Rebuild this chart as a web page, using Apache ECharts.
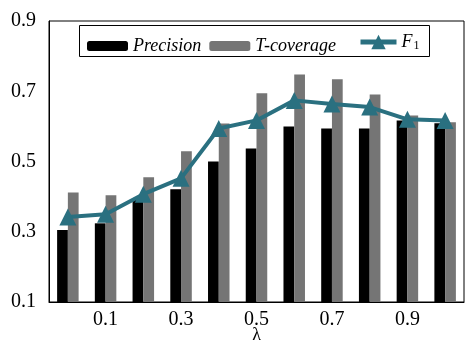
<!DOCTYPE html>
<html><head><meta charset="utf-8">
<script src="https://cdn.jsdelivr.net/npm/echarts@6/dist/echarts.min.js"></script>
<style>html,body{margin:0;padding:0;background:#fff}#c{width:465px;height:346px}</style>
</head><body><div id="c"></div>
<script>
const categories = ['0','0.1','0.2','0.3','0.4','0.5','0.6','0.7','0.8','0.9','1.0'];
const precision = [0.305, 0.324, 0.392, 0.421, 0.500, 0.537, 0.600, 0.594, 0.594, 0.617, 0.609];
const tcoverage = [0.412, 0.404, 0.455, 0.529, 0.608, 0.694, 0.748, 0.734, 0.691, 0.631, 0.612];
const f1 = [0.342, 0.350, 0.407, 0.452, 0.594, 0.617, 0.674, 0.664, 0.655, 0.620, 0.617];
const yTicks = [0.1, 0.3, 0.5, 0.7, 0.9];
const font = "'Liberation Serif', 'Times New Roman', serif";
const legendText = {
  fontFamily: font, fontSize: 18, color: '#000',
  rich: {
    i: {fontFamily: font, fontStyle: 'italic', fontSize: 18, color: '#000'},
    s: {fontFamily: font, fontSize: 12, color: '#000', padding: [7, 0, 0, 1]}
  }
};
const chart = echarts.init(document.getElementById('c'));
chart.setOption({
  animation: false,
  grid: {left: 49, right: 1, top: 21, bottom: 44, show: true, borderColor: '#000', borderWidth: 1, outerBoundsMode: 'none', containLabel: false},
  graphic: [{type: 'rect', left: 79, top: 25, shape: {width: 350, height: 31}, style: {fill: '#fff', stroke: '#000', lineWidth: 1}, z: 50}],
  legend: [
    {
      top: 32, left: 82, padding: 5, itemGap: 8,
      itemWidth: 41, itemHeight: 10, z: 60,
      data: ['Precision', 'T-coverage'],
      formatter: function (n) { return '{i|' + n + '}'; },
      textStyle: legendText
    },
    {
      top: 28, left: 353, padding: 5, itemGap: 8,
      itemWidth: 36, itemHeight: 18, z: 60,
      data: [{name: 'F1', lineStyle: {width: 5}}],
      formatter: function () { return '{i|F}{s|1}'; },
      textStyle: legendText
    }
  ],
  xAxis: {
    type: 'category', data: categories,
    name: 'λ', nameLocation: 'middle', nameGap: 24, nameMoveOverlap: false,
    nameTextStyle: {fontFamily: font, fontSize: 18, color: '#000'},
    axisLine: {lineStyle: {color: '#000'}}, axisTick: {show: false},
    axisLabel: {interval: function (i) { return i % 2 === 1; }, fontFamily: font, fontSize: 20, color: '#000', margin: 8}
  },
  yAxis: {
    type: 'value', min: yTicks[0], max: yTicks[yTicks.length - 1], interval: 0.2,
    splitLine: {show: false}, axisTick: {show: false},
    axisLine: {show: true, lineStyle: {color: '#000'}},
    axisLabel: {fontFamily: font, fontSize: 20, color: '#000', margin: 13, formatter: function (v) { return v.toFixed(1); }}
  },
  series: [
    {name: 'Precision', type: 'bar', data: precision, itemStyle: {color: '#000'}, barGap: '0%', barCategoryGap: '43%'},
    {name: 'T-coverage', type: 'bar', data: tcoverage, itemStyle: {color: '#757575'}},
    {name: 'F1', type: 'line', data: f1, z: 5, symbol: 'triangle', symbolSize: 17,
     lineStyle: {color: '#2a7080', width: 4}, itemStyle: {color: '#2a7080'}}
  ]
});
</script></body></html>
